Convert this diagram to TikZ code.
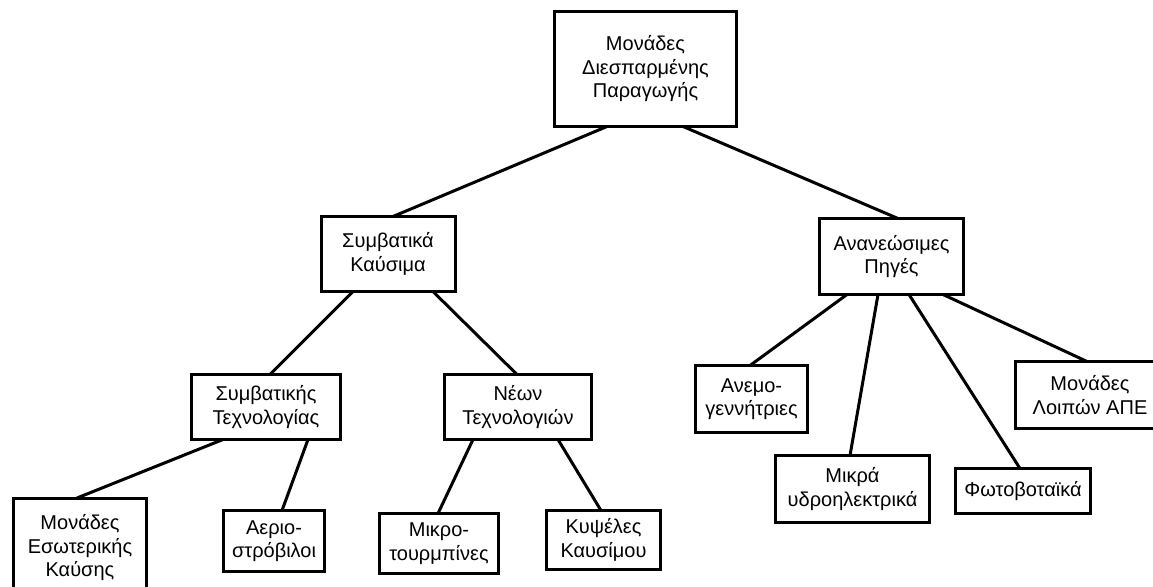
\documentclass[tikz,border=0pt]{standalone}
\usepackage{fontspec}
\setmainfont{Liberation Sans}
\tikzset{
  unit/.style={x=1pt,y=-1pt},
  box/.style={draw=black,line width=3pt,fill=white,inner sep=0pt,outer sep=0pt,
    align=center,font=\fontsize{20}{23.5}\selectfont,text=black},
  link/.style={line width=3pt,draw=black}
}
\begin{document}
\begin{tikzpicture}[unit]
\useasboundingbox (0,0) rectangle (1153,586);
\fill[white] (0,0) rectangle (1153,586);
\clip (0,0) rectangle (1153,586);

% root
\node[box,minimum width=182pt,minimum height=115pt] (top) at (645.5,69) {Μονάδες\\Διεσπαρμένης\\Παραγωγής};

% second level
\node[box,minimum width=134pt,minimum height=75pt] (fuel) at (388,254) {Συμβατικά\\Καύσιμα};
\node[box,minimum width=144pt,minimum height=76pt] (res) at (891.5,256.5) {Ανανεώσιμες\\Πηγές};

% conventional fuels branch
\node[box,minimum width=149pt,minimum height=65pt] (conv) at (266,407) {Συμβατικής\\Τεχνολογίας};
\node[box,minimum width=147pt,minimum height=65pt] (newt) at (518,407) {Νέων\\Τεχνολογιών};
\node[box,minimum width=133pt,minimum height=100pt] (ice) at (80,548) {Μονάδες\\Εσωτερικής\\Καύσης};
\node[box,minimum width=101pt,minimum height=61pt] (gas) at (274,541) {Αεριο-\\στρόβιλοι};
\node[box,minimum width=119pt,minimum height=60pt] (micro) at (439,543.5) {Μικρο-\\τουρμπίνες};
\node[box,minimum width=114pt,minimum height=59pt] (cell) at (603.5,540) {Κυψέλες\\Καυσίμου};

% renewables branch
\node[box,minimum width=112pt,minimum height=67pt] (wind) at (751.5,399) {Ανεμο-\\γεννήτριες};
\node[box,minimum width=154pt,minimum height=67pt] (hydro) at (852.5,489) {Μικρά\\υδροηλεκτρικά};
\node[box,minimum width=135pt,minimum height=45pt] (pv) at (1023,491) {Φωτοβοταϊκά};
\node[box,minimum width=149pt,minimum height=67pt] (other) at (1090,395) {Μονάδες\\Λοιπών ΑΠΕ};

% connectors
\draw[link] ([xshift=-38.5pt]top.south) -- ([xshift=5pt]fuel.north);
\draw[link] ([xshift=37.5pt]top.south) -- ([xshift=6.5pt]res.north);
\draw[link] ([xshift=-35pt]fuel.south) -- ([xshift=4pt]conv.north);
\draw[link] ([xshift=45pt]fuel.south) -- ([xshift=-1pt]newt.north);
\draw[link] ([xshift=-43pt]conv.south) -- ([xshift=-3pt]ice.north);
\draw[link] ([xshift=42pt]conv.south) -- ([xshift=8pt]gas.north);
\draw[link] ([xshift=-45pt]newt.south) -- ([xshift=-1pt]micro.north);
\draw[link] ([xshift=40pt]newt.south) -- ([xshift=-2.5pt]cell.north);
\draw[link] ([xshift=-44.5pt]res.south) -- ([xshift=-1.5pt]wind.north);
\draw[link] ([xshift=-13.5pt]res.south) -- ([xshift=-2.5pt]hydro.north);
\draw[link] ([xshift=17.5pt]res.south) -- ([xshift=-3pt]pv.north);
\draw[link] ([xshift=51.5pt]res.south) -- ([xshift=-3pt]other.north);
\end{tikzpicture}
\end{document}
